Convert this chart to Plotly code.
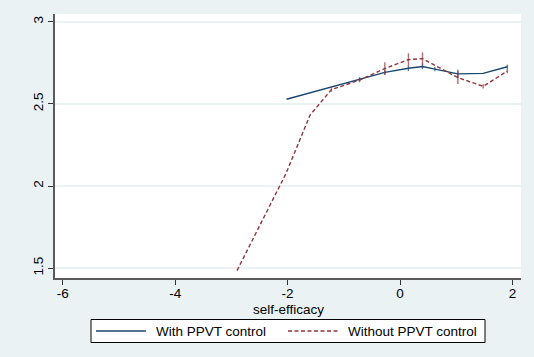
import plotly.graph_objects as go

# Data
x_with = [-2.02, -1.6, -1.2, -0.72, -0.27, 0.15, 0.40, 0.62, 1.03, 1.48, 1.91]
y_with = [2.528, 2.567, 2.605, 2.650, 2.692, 2.717, 2.728, 2.712, 2.683, 2.686, 2.726]
m_with = [0, 0, 0, 3, 3, 4, 4, 3, 6, 0, 3]

x_without = [-2.9, -2.03, -1.6, -1.22, -0.72, -0.27, 0.15, 0.40, 1.03, 1.48, 1.91]
y_without = [1.485, 2.075, 2.432, 2.587, 2.645, 2.715, 2.770, 2.775, 2.660, 2.607, 2.700]
m_without = [0, 0, 0, 3, 3, 9, 9, 9, 9, 3, 3]

x_ticks = [-6, -4, -2, 0, 2]
y_ticks = [1.5, 2, 2.5, 3]
y_tick_text = ["1.5", "2", "2.5", "3"]

series_names = ["With PPVT control", "Without PPVT control"]
x_title = "self-efficacy"

BLUE = "#1a476f"
RED = "#90353b"
BG = "#eaf2f3"
FONT = "Liberation Sans, Arial, sans-serif"
FS = 13.5

fig = go.Figure()
fig.add_trace(go.Scatter(
    x=x_with, y=y_with, mode="lines+markers", name=series_names[0],
    line=dict(color=BLUE, width=1.4),
    marker=dict(symbol="line-ns", size=m_with, color=BLUE, line=dict(color=BLUE, width=1.4)),
    showlegend=False))
fig.add_trace(go.Scatter(
    x=x_without, y=y_without, mode="lines+markers", name=series_names[1],
    line=dict(color=RED, width=1.4, dash="4px,2.5px"),
    marker=dict(symbol="line-ns", size=m_without, color=RED, line=dict(color=RED, width=1.4)),
    showlegend=False))

# Plot area geometry (px): x 55..521, y 14..278
L, R, T, B = 55, 521, 14, 278
W, H = R - L, B - T

def px(xp):
    return (xp - L) / W

def py(yp):
    return (B - yp) / H

shapes = [
    dict(type="rect", xref="paper", yref="paper", x0=px(91), x1=px(485), y0=py(319.5), y1=py(342.5),
         line=dict(color="black", width=1), fillcolor="white", layer="above"),
    dict(type="line", xref="paper", yref="paper", x0=px(96), x1=px(146), y0=py(331), y1=py(331),
         line=dict(color=BLUE, width=1.4)),
    dict(type="line", xref="paper", yref="paper", x0=px(288), x1=px(338), y0=py(331), y1=py(331),
         line=dict(color=RED, width=1.4, dash="4px,2.5px")),
]
annotations = [
    dict(xref="paper", yref="paper", x=px(154), y=py(331), text=series_names[0], showarrow=False,
         xanchor="left", yanchor="middle", font=dict(family=FONT, size=FS, color="black")),
    dict(xref="paper", yref="paper", x=px(346), y=py(331), text=series_names[1], showarrow=False,
         xanchor="left", yanchor="middle", font=dict(family=FONT, size=FS, color="black")),
    dict(xref="paper", yref="paper", x=0.5, y=py(309), text=x_title, showarrow=False,
         xanchor="center", yanchor="middle", font=dict(family=FONT, size=FS, color="black")),
]

fig.update_layout(
    width=534, height=357,
    margin=dict(l=L, r=534 - R, t=T, b=357 - B, autoexpand=False),
    paper_bgcolor=BG, plot_bgcolor="white",
    font=dict(family=FONT, size=FS, color="black"),
    shapes=shapes, annotations=annotations,
    showlegend=False,
)
fig.update_xaxes(
    range=[-6.139, 2.153], tickvals=x_ticks, ticktext=[str(v) for v in x_ticks],
    showgrid=False, zeroline=False, showline=True, linecolor="#5a5a5a", linewidth=1.5,
    ticks="outside", ticklen=5, tickcolor="#333", tickwidth=1, automargin=False,
    ticklabelstandoff=-3,
    tickfont=dict(family=FONT, size=FS, color="black"),
)
fig.update_yaxes(
    range=[1.4397, 3.0475], tickvals=y_ticks, ticktext=y_tick_text, tickangle=-90,
    showgrid=True, gridcolor=BG, gridwidth=1.5, zeroline=False,
    showline=True, linecolor="#5a5a5a", linewidth=1.5, automargin=False,
    ticks="outside", ticklen=5, tickcolor="#333", tickwidth=1,
    tickfont=dict(family=FONT, size=FS, color="black"),
)

fig.write_html(
    "out.html",
    config={"displayModeBar": False},
    post_script="document.body.style.margin='0';document.body.style.padding='0';",
)
